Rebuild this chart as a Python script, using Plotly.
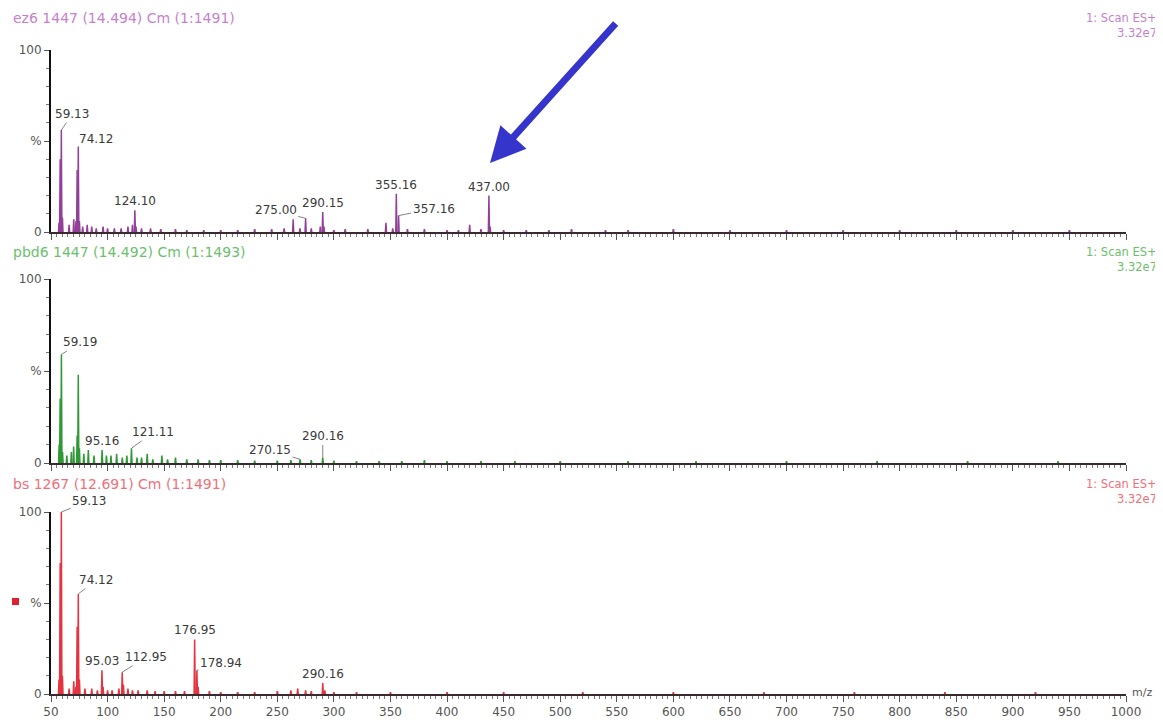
import plotly.graph_objects as go

# ---------------- data (m/z, relative intensity %) ----------------
ez6_mz = [57.1, 58.1, 59.13, 60.1, 66.0, 70.1, 72.1, 73.1, 74.12, 75.1, 78.0, 82.0, 86.0, 90.0,
          96.0, 100.0, 106.0, 112.0, 118.0, 122.0, 124.10, 125.1, 130.0, 138.0, 147.0, 160.0,
          170.0, 185.0, 200.0, 215.0, 230.0, 245.0, 256.0, 264.0, 270.0, 275.00, 280.0, 288.0,
          290.15, 291.2, 300.0, 310.0, 330.0, 346.0, 352.0, 355.16, 357.16, 365.0, 380.0, 400.0,
          410.0, 420.0, 430.0, 437.00, 438.0, 450.0, 470.0, 490.0, 510.0, 540.0, 560.0, 600.0,
          650.0, 700.0, 750.0, 800.0, 850.0, 900.0, 950.0]
ez6_int = [5, 40, 56, 8, 4, 7, 6, 34, 47, 6, 3, 4, 3, 2,
           3, 2, 2, 2, 3, 4, 12, 3, 2, 2, 1.5, 1.5,
           1, 1, 1, 1, 1.5, 1.5, 2, 7, 2, 7.5, 2, 3,
           11, 3, 1, 1.5, 1.5, 5, 2, 21, 9, 1.5, 1.5, 1,
           1, 4, 1.5, 20, 3, 1, 1, 1, 1.5, 1, 1, 1.5,
           1, 1, 1, 1, 1, 1, 1]
ez6_labels = {59.13: "59.13", 74.12: "74.12", 124.10: "124.10", 275.00: "275.00",
              290.15: "290.15", 355.16: "355.16", 357.16: "357.16", 437.00: "437.00"}

pbd6_mz = [57.2, 58.1, 59.19, 60.2, 64.0, 68.0, 70.0, 73.1, 74.1, 75.1, 79.0, 83.0, 88.0,
           95.16, 99.0, 103.0, 108.0, 113.0, 117.0, 121.11, 126.0, 130.0, 135.0, 140.0, 148.0,
           153.0, 160.0, 170.0, 180.0, 190.0, 200.0, 215.0, 230.0, 250.0, 262.0, 270.15, 280.0,
           290.16, 300.0, 320.0, 340.0, 360.0, 380.0, 400.0, 430.0, 460.0, 500.0, 560.0, 620.0,
           700.0, 780.0, 860.0, 940.0]
pbd6_int = [10, 35, 59, 6, 4, 6, 9, 15, 48, 8, 5, 7, 4,
            7, 4, 4, 5, 3, 4, 8, 3, 3, 5, 2, 4,
            2, 3, 2, 2, 1.5, 1.5, 1.5, 1.2, 1.2, 1.5, 2, 1.5,
            3, 1.2, 1, 1, 1, 1.5, 1, 1, 1, 1, 1, 1,
            1, 1, 1, 1]
pbd6_labels = {59.19: "59.19", 95.16: "95.16", 121.11: "121.11", 270.15: "270.15", 290.16: "290.16"}

bs_mz = [57.1, 58.1, 59.13, 60.1, 66.0, 70.1, 72.0, 73.1, 74.12, 75.1, 80.0, 86.0, 91.0,
         95.03, 96.0, 100.0, 104.0, 110.0, 112.95, 114.0, 118.0, 122.0, 127.0, 135.0, 142.0,
         150.0, 160.0, 168.0, 176.95, 178.94, 180.0, 190.0, 200.0, 215.0, 230.0, 250.0, 262.0,
         268.0, 275.0, 280.0, 290.16, 292.0, 300.0, 320.0, 350.0, 400.0, 450.0, 520.0, 600.0,
         680.0, 760.0, 840.0, 920.0]
bs_int = [8, 72, 100, 10, 3, 7, 4, 37, 55, 8, 3, 3, 2,
          13, 4, 2, 2, 3, 12, 5, 3, 2, 2, 2, 1.5,
          1.5, 1.5, 1.5, 30, 13, 4, 1.5, 1, 1, 1, 1.5, 2,
          3, 2, 1.5, 6, 2, 1, 1, 1, 1, 1, 1, 1,
          1, 1, 1, 1]
bs_labels = {59.13: "59.13", 74.12: "74.12", 95.03: "95.03", 112.95: "112.95",
             176.95: "176.95", 178.94: "178.94", 290.16: "290.16"}

titles = ["ez6 1447 (14.494) Cm (1:1491)", "pbd6 1447 (14.492) Cm (1:1493)", "bs 1267 (12.691) Cm (1:1491)"]
scan_text = "1: Scan ES+"
scale_text = "3.32e7"
x_ticks = list(range(50, 1001, 50))

# ---------------- styling / layout ----------------
W, H = 1163, 720
OFF = 8   # page body margin offset of the plot div
line_colors = ["#93409a", "#2f9a35", "#e3343f"]
title_colors = ["#c77fcf", "#6cbf6c", "#f0707a"]
panel_px = [(50, 232), (279, 463), (512, 694)]   # (top, bottom) pixel rows of each panel
x_left, x_right = 51, 1126
FONT = "DejaVu Sans"

def py(px):
    return 1 - (px - OFF) / H

def pxx(px):
    return (px - OFF) / W

def stick_xy(mz, inten, w=0.5):
    xs, ys = [], []
    for m, h in zip(mz, inten):
        xs += [m - w, m, m + w, None]
        ys += [0, h, 0, None]
    return xs, ys

fig = go.Figure()
datasets = [(ez6_mz, ez6_int), (pbd6_mz, pbd6_int), (bs_mz, bs_int)]
for i, (mz, it) in enumerate(datasets):
    xs, ys = stick_xy(mz, it)
    fig.add_trace(go.Scatter(x=xs, y=ys, mode="lines", line=dict(color=line_colors[i], width=1.5),
                             xaxis="x" if i == 0 else f"x{i+1}", yaxis="y" if i == 0 else f"y{i+1}",
                             showlegend=False, hoverinfo="skip", connectgaps=False))

layout = dict(width=W, height=H, margin=dict(l=0, r=0, t=0, b=0), paper_bgcolor="white",
              plot_bgcolor="white", font=dict(family=FONT, size=12, color="#444"), showlegend=False)
for i in range(3):
    xa = "xaxis" if i == 0 else f"xaxis{i+1}"
    ya = "yaxis" if i == 0 else f"yaxis{i+1}"
    top, bot = panel_px[i]
    layout[xa] = dict(domain=[pxx(x_left), pxx(x_right)], range=[50, 1000], anchor="y" if i == 0 else f"y{i+1}",
                      showgrid=False, zeroline=False, showline=True, linecolor="#3a2a30", linewidth=2,
                      tickmode="array", tickvals=x_ticks, ticktext=[str(v) for v in x_ticks],
                      showticklabels=(i == 2), ticks="outside", ticklen=6, tickcolor="#555", tickwidth=1,
                      minor=dict(dtick=5, tick0=50, ticks="outside", ticklen=3, tickcolor="#777"),
                      tickfont=dict(family=FONT, size=12, color="#555"), automargin=False, fixedrange=True)
    layout[ya] = dict(domain=[py(bot), py(top)], range=[0, 100], anchor="x" if i == 0 else f"x{i+1}",
                      showgrid=False, zeroline=False, showline=True, linecolor="#111", linewidth=2,
                      tickmode="array", tickvals=[0, 50, 100], ticktext=["0", "%", "100"],
                      ticks="outside", ticklen=5, tickcolor="#555",
                      minor=dict(dtick=10, ticks="outside", ticklen=3, tickcolor="#777"),
                      tickfont=dict(family=FONT, size=12, color="#555"), automargin=False, fixedrange=True)
fig.update_layout(**layout)

annotations = []
# panel headers
for i in range(3):
    hy = [18, 252, 484][i]
    annotations.append(dict(text=titles[i], x=pxx(11), y=py(hy), xref="paper", yref="paper",
                            xanchor="left", yanchor="middle", showarrow=False,
                            font=dict(family=FONT, size=14, color=title_colors[i])))
    annotations.append(dict(text=scan_text, x=pxx(1159), y=py(hy), xref="paper", yref="paper",
                            xanchor="right", yanchor="middle", showarrow=False,
                            font=dict(family=FONT, size=11.5, color=title_colors[i])))
    annotations.append(dict(text=scale_text, x=pxx(1159), y=py(hy + 15), xref="paper", yref="paper",
                            xanchor="right", yanchor="middle", showarrow=False,
                            font=dict(family=FONT, size=11.5, color=title_colors[i])))

# peak labels: (ax, ay) pixel offsets of label centre; None -> directly above
offsets = [
    {59.13: (11, -16), 74.12: (18, -7), 124.10: None, 275.00: (-30, -8), 290.15: None,
     355.16: None, 357.16: (35, -7), 437.00: None},
    {59.19: (19, -12), 95.16: None, 121.11: (22, -16), 270.15: (-30, -9), 290.16: (0, -21)},
    {59.13: (28, -11), 74.12: (18, -14), 95.03: None, 112.95: (24, -15), 176.95: None,
     178.94: (24, -7), 290.16: None},
]
label_sets = [ez6_labels, pbd6_labels, bs_labels]
for i, (mz, it) in enumerate(datasets):
    xr = "x" if i == 0 else f"x{i+1}"
    yr = "y" if i == 0 else f"y{i+1}"
    lookup = dict(zip(mz, it))
    for m, txt in label_sets[i].items():
        h = lookup[m]
        off = offsets[i][m]
        if off is None:
            annotations.append(dict(text=txt, x=m, y=h, xref=xr, yref=yr, showarrow=False,
                                    yanchor="bottom", yshift=0,
                                    font=dict(family=FONT, size=12, color="#3a3a3a")))
        else:
            annotations.append(dict(text=txt, x=m, y=h, xref=xr, yref=yr, showarrow=True,
                                    arrowhead=0, arrowwidth=0.8, arrowcolor="#666", standoff=0,
                                    ax=off[0], ay=off[1], font=dict(family=FONT, size=12, color="#3a3a3a")))

# m/z axis title
annotations.append(dict(text="m/z", x=pxx(1130), y=py(692), xref="paper", yref="paper",
                        xanchor="left", yanchor="middle", showarrow=False,
                        font=dict(family=FONT, size=11, color="#555")))

# big blue arrow pointing at 437.00
annotations.append(dict(text="", x=pxx(490), y=py(163), xref="paper", yref="paper",
                        showarrow=True, arrowhead=2, arrowsize=1, arrowwidth=7, arrowcolor="#3535cc",
                        ax=617 - 490, ay=22 - 163, standoff=0))
fig.update_layout(annotations=annotations)

# small red marker next to the bottom % label
fig.add_shape(type="rect", xref="paper", yref="paper", x0=pxx(12), x1=pxx(19), y0=py(605), y1=py(598),
              fillcolor="#e0202c", line=dict(width=0))

fig.write_html("out.html")
